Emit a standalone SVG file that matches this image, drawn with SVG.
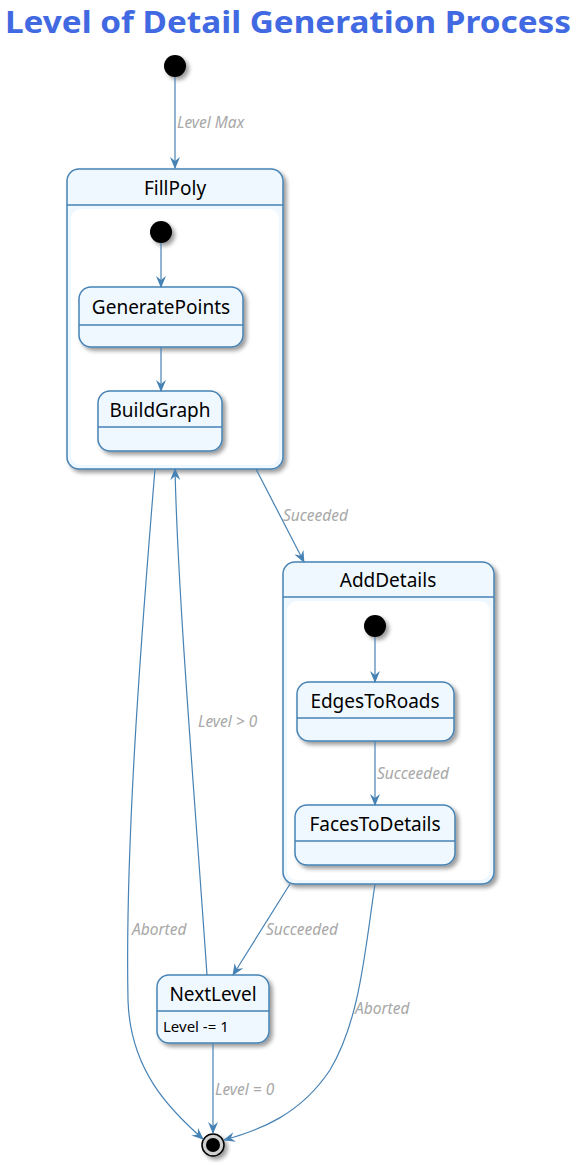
<svg xmlns="http://www.w3.org/2000/svg" width="585" height="1170" viewBox="0 0 585 1170">
<style>
.st{fill:#F0F8FF;stroke:#4682B4;stroke-width:1.5}
.in{fill:#FFFFFF;stroke:none}
.dv{stroke:#4682B4;stroke-width:1.5}
.nm{font-family:"Noto Sans","Open Sans",sans-serif;font-size:19px;fill:#000;text-anchor:middle}
.ln{fill:none;stroke:#4682B4;stroke-width:1.2}
.lb{font-family:"Noto Sans","Open Sans",sans-serif;font-size:15.5px;font-style:italic;fill:#A8A8A8}
.dot{fill:#000}
</style>
<defs>
<filter id="sh" x="-20%" y="-20%" width="150%" height="150%">
<feGaussianBlur in="SourceAlpha" stdDeviation="2"/>
<feOffset dx="3" dy="3" result="b"/>
<feComponentTransfer><feFuncA type="linear" slope="0.4"/></feComponentTransfer>
<feMerge><feMergeNode/><feMergeNode in="SourceGraphic"/></feMerge>
</filter>
<marker id="ar" viewBox="0 0 12 10" refX="11" refY="5" markerWidth="12" markerHeight="10" markerUnits="userSpaceOnUse" orient="auto">
<path d="M0,0 L12,5 L0,10 L4,5 Z" fill="#4682B4"/>
</marker>
</defs>
<text x="288" y="33" font-family="Noto Sans,Open Sans,sans-serif" font-size="31" font-weight="bold" fill="#4169E1" text-anchor="middle" textLength="566" lengthAdjust="spacingAndGlyphs">Level of Detail Generation Process</text>

<g id="start"><circle cx="175" cy="66" r="11" class="dot" filter="url(#sh)"/></g>

<g id="FillPoly">
<rect x="67" y="169" width="216" height="300" rx="12" class="st" filter="url(#sh)"/>
<line x1="67" y1="205" x2="283" y2="205" class="dv"/>
<rect x="71" y="209" width="208" height="256" rx="10" class="in"/>
<text x="175" y="195" class="nm">FillPoly</text>
<circle cx="161" cy="232" r="11" class="dot" filter="url(#sh)"/>
<g id="GeneratePoints">
<rect x="79" y="287" width="164" height="60" rx="12" class="st" filter="url(#sh)"/>
<line x1="79" y1="325" x2="243" y2="325" class="dv"/>
<text x="161" y="314" class="nm">GeneratePoints</text>
</g>
<g id="BuildGraph">
<rect x="98" y="391" width="124" height="60" rx="12" class="st" filter="url(#sh)"/>
<line x1="98" y1="427" x2="222" y2="427" class="dv"/>
<text x="160" y="417" class="nm">BuildGraph</text>
</g>
</g>

<g id="AddDetails">
<rect x="283" y="562" width="211" height="322" rx="12" class="st" filter="url(#sh)"/>
<line x1="283" y1="597" x2="494" y2="597" class="dv"/>
<rect x="287" y="601" width="203" height="279" rx="10" class="in"/>
<text x="388" y="587" class="nm">AddDetails</text>
<circle cx="375" cy="626" r="11" class="dot" filter="url(#sh)"/>
<g id="EdgesToRoads">
<rect x="297" y="682" width="157" height="59" rx="12" class="st" filter="url(#sh)"/>
<line x1="297" y1="718" x2="454" y2="718" class="dv"/>
<text x="375" y="708" class="nm">EdgesToRoads</text>
</g>
<g id="FacesToDetails">
<rect x="295" y="805" width="160" height="60" rx="12" class="st" filter="url(#sh)"/>
<line x1="295" y1="841" x2="455" y2="841" class="dv"/>
<text x="375" y="831" class="nm">FacesToDetails</text>
</g>
</g>

<g id="NextLevel">
<rect x="157" y="975" width="112" height="68" rx="12" class="st" filter="url(#sh)"/>
<line x1="157" y1="1011" x2="269" y2="1011" class="dv"/>
<text x="213" y="1001" class="nm">NextLevel</text>
<text x="163" y="1032" font-family="Noto Sans,Open Sans,sans-serif" font-size="15" fill="#000">Level -= 1</text>
</g>

<g id="end">
<circle cx="213" cy="1145" r="11" fill="#d0d0d0" stroke="#000" stroke-width="1.5" filter="url(#sh)"/>
<circle cx="213" cy="1145" r="7" fill="#000"/>
</g>

<g id="connectors">
<line x1="175" y1="77" x2="175" y2="168" class="ln" marker-end="url(#ar)"/>
<text x="177" y="128" class="lb">Level Max</text>
<line x1="161" y1="243" x2="161" y2="287" class="ln" marker-end="url(#ar)"/>
<line x1="161" y1="347" x2="161" y2="391" class="ln" marker-end="url(#ar)"/>
<line x1="375" y1="637" x2="375" y2="682" class="ln" marker-end="url(#ar)"/>
<line x1="375" y1="741" x2="375" y2="805" class="ln" marker-end="url(#ar)"/>
<text x="377" y="779" class="lb">Succeeded</text>
<line x1="256" y1="469" x2="304" y2="562" class="ln" marker-end="url(#ar)"/>
<text x="283" y="521" class="lb">Suceeded</text>
<path d="M155,469 C140,650 125,850 128,1000 C130,1070 170,1110 203,1139" class="ln" marker-end="url(#ar)"/>
<text x="132" y="935" class="lb">Aborted</text>
<path d="M207,975 C195,800 178,600 175,469" class="ln" marker-end="url(#ar)"/>
<text x="198" y="727" class="lb">Level &gt; 0</text>
<line x1="290" y1="884" x2="233" y2="975" class="ln" marker-end="url(#ar)"/>
<text x="266" y="935" class="lb">Succeeded</text>
<path d="M375,884 C365,950 360,1020 330,1070 C300,1115 260,1130 224,1140" class="ln" marker-end="url(#ar)"/>
<text x="355" y="1014" class="lb">Aborted</text>
<line x1="213" y1="1043" x2="213" y2="1133" class="ln" marker-end="url(#ar)"/>
<text x="215" y="1095" class="lb">Level = 0</text>
</g>
</svg>
